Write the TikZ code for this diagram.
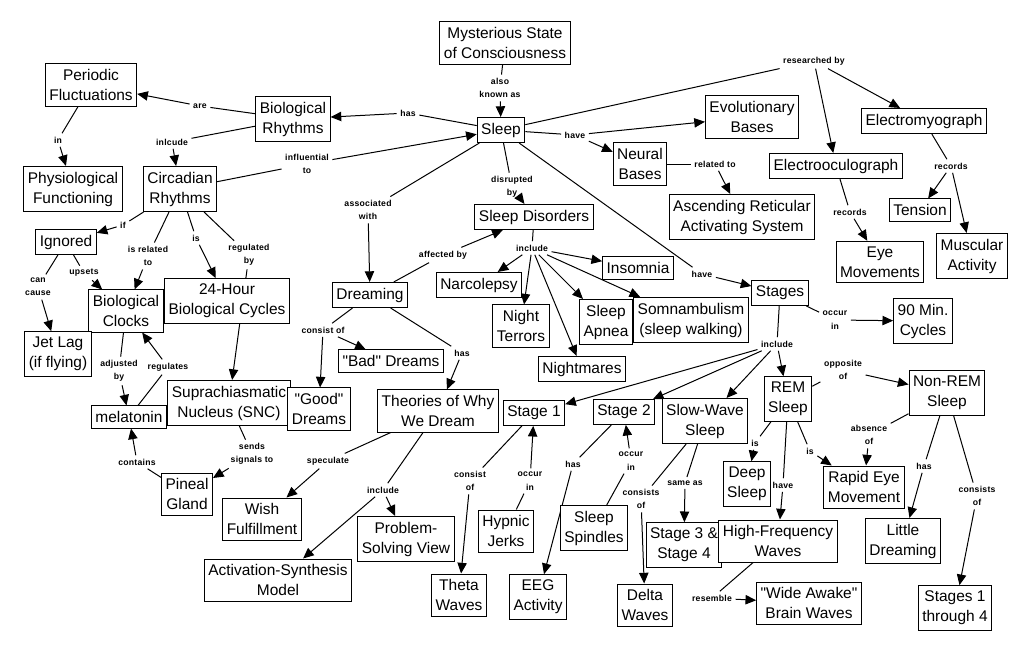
\documentclass[tikz,border=0pt]{standalone}
\usepackage{fontspec}
\setmainfont{Liberation Sans}
\newfontfamily\linkfont[LetterSpace=3]{Liberation Sans}
\usetikzlibrary{arrows.meta,backgrounds}

\tikzset{
  concept/.style={draw, fill=white, line width=0.75pt, align=center, inner xsep=3pt, inner ysep=4pt, font=\fontsize{11.6}{15}\selectfont},
  linkword/.style={align=center, inner sep=2.5pt, font=\linkfont\bfseries\fontsize{6.5}{10}\selectfont},
  plain/.style={line width=0.75pt},
  link/.style={line width=0.75pt, -{Triangle[length=8pt,width=7pt]}}
}

\begin{document}
\begin{tikzpicture}[x=0.75pt, y=-0.75pt]
\useasboundingbox (0,0) rectangle (1034,651);

% linking words
\node[linkword] (aka) at (500,88) {also\\known as};
\node[linkword] (has1) at (408,113) {has};
\node[linkword] (are) at (200,106) {are};
\node[linkword] (inlcude) at (172,142) {inlcude};
\node[linkword] (inw) at (58,140) {in};
\node[linkword] (infl) at (307,164) {influential\\to};
\node[linkword] (assoc) at (368,210) {associated\\with};
\node[linkword] (disr) at (512,187) {disrupted\\by};
\node[linkword] (ifw) at (123,225) {if};
\node[linkword] (isrel) at (148,256) {is related\\to};
\node[linkword] (is1) at (196,238) {is};
\node[linkword] (regby) at (249,255) {regulated\\by};
\node[linkword] (cancause) at (38,287) {can\\cause};
\node[linkword] (upsets) at (84,273) {upsets};
\node[linkword] (adjby) at (119,371) {adjusted\\by};
\node[linkword] (regul) at (168,367) {regulates};
\node[linkword] (contains) at (137,462) {contains};
\node[linkword] (sends) at (252,454) {sends\\signals to};
\node[linkword] (consist1) at (323,330) {consist of};
\node[linkword] (has2) at (462,353) {has};
\node[linkword] (affby) at (443,255) {affected by};
\node[linkword] (incl1) at (532,248) {include};
\node[linkword] (spec) at (328,461) {speculate};
\node[linkword] (incl2) at (383,490) {include};
\node[linkword] (have1) at (575,135) {have};
\node[linkword] (relto) at (715,164) {related to};
\node[linkword] (resby) at (814,61) {researched by};
\node[linkword] (rec1) at (951,166) {records};
\node[linkword] (rec2) at (850,212) {records};
\node[linkword] (have2) at (702,274) {have};
\node[linkword] (occ1) at (835,320) {occur\\in};
\node[linkword] (incl3) at (777,344) {include};
\node[linkword] (opp) at (843,370) {opposite\\of};
\node[linkword] (is2) at (755,443) {is};
\node[linkword] (is3) at (810,451) {is};
\node[linkword] (have3) at (783,485) {have};
\node[linkword] (absof) at (869,435) {absence\\of};
\node[linkword] (has3) at (924,466) {has};
\node[linkword] (consof1) at (977,496) {consists\\of};
\node[linkword] (occ2) at (530,481) {occur\\in};
\node[linkword] (has4) at (573,464) {has};
\node[linkword] (occ3) at (631,461) {occur\\in};
\node[linkword] (consist2) at (470,481) {consist\\of};
\node[linkword] (consof2) at (641,499) {consists\\of};
\node[linkword] (sameas) at (685,483) {same as};
\node[linkword] (resem) at (712,598) {resemble};

% concepts
\node[concept] (myst) at (505,43) {Mysterious State\\of Consciousness};
\node[concept] (sleep) at (501,130) {Sleep};
\node[concept] (per) at (91,85) {Periodic\\Fluctuations};
\node[concept] (bio) at (293,119) {Biological\\Rhythms};
\node[concept] (phys) at (73,189) {Physiological\\Functioning};
\node[concept] (circ) at (180,189) {Circadian\\Rhythms};
\node[concept] (ign) at (66,242) {Ignored};
\node[concept] (hour) at (227,301) {24-Hour\\Biological Cycles};
\node[concept] (clock) at (126,311) {Biological\\Clocks};
\node[concept] (jet) at (58,354) {Jet Lag\\(if flying)};
\node[concept] (snc) at (229,403) {Suprachiasmatic\\Nucleus (SNC)};
\node[concept] (mela) at (129,417) {melatonin};
\node[concept] (pineal) at (187,494) {Pineal\\Gland};
\node[concept] (dream) at (370,295) {Dreaming};
\node[concept] (bad) at (391,361) {\textquotedbl Bad\textquotedbl{} Dreams};
\node[concept] (good) at (319,409) {\textquotedbl Good\textquotedbl\\Dreams};
\node[concept] (theo) at (438,411) {Theories of Why\\We Dream};
\node[concept] (wish) at (262,519) {Wish\\Fulfillment};
\node[concept] (prob) at (406,539) {Problem-\\Solving View};
\node[concept] (act) at (278,580) {Activation-Synthesis\\Model};
\node[concept] (theta) at (459,595) {Theta\\Waves};
\node[concept] (disord) at (534,217) {Sleep Disorders};
\node[concept] (narc) at (479,285) {Narcolepsy};
\node[concept] (terr) at (521,326) {Night\\Terrors};
\node[concept] (insom) at (638,268) {Insomnia};
\node[concept] (apnea) at (606,322) {Sleep\\Apnea};
\node[concept] (somn) at (691,320) {Somnambulism\\(sleep walking)};
\node[concept] (nightm) at (582,369) {Nightmares};
\node[concept] (evol) at (752,117) {Evolutionary\\Bases};
\node[concept] (neural) at (640,164) {Neural\\Bases};
\node[concept] (aras) at (742,217) {Ascending Reticular\\Activating System};
\node[concept] (emg) at (924,121) {Electromyograph};
\node[concept] (eog) at (836,166) {Electrooculograph};
\node[concept] (tension) at (920,210) {Tension};
\node[concept] (eye) at (880,262) {Eye\\Movements};
\node[concept] (musc) at (972,256) {Muscular\\Activity};
\node[concept] (stages) at (780,293) {Stages};
\node[concept] (cycles) at (923,321) {90 Min.\\Cycles};
\node[concept] (st1) at (534,413) {Stage 1};
\node[concept] (st2) at (624,412) {Stage 2};
\node[concept] (sws) at (705,421) {Slow-Wave\\Sleep};
\node[concept] (rem) at (788,399) {REM\\Sleep};
\node[concept] (nrem) at (947,393) {Non-REM\\Sleep};
\node[concept] (hypnic) at (506,531) {Hypnic\\Jerks};
\node[concept] (spind) at (594,528) {Sleep\\Spindles};
\node[concept] (eeg) at (538,597) {EEG\\Activity};
\node[concept] (deep) at (747,484) {Deep\\Sleep};
\node[concept] (rapid) at (864,487) {Rapid Eye\\Movement};
\node[concept] (st34) at (684,545) {Stage 3 \&\\Stage 4};
\node[concept] (hfw) at (778,541) {High-Frequency\\Waves};
\node[concept] (little) at (903,541) {Little\\Dreaming};
\node[concept] (delta) at (645,605) {Delta\\Waves};
\node[concept] (awake) at (809,603) {\textquotedbl Wide Awake\textquotedbl\\Brain Waves};
\node[concept] (st14) at (955,608) {Stages 1\\through 4};

% connectors
\begin{scope}[on background layer]
\draw[plain] (myst) -- (aka); \draw[link] (aka) -- (sleep);
\draw[plain] (sleep) -- (has1); \draw[link] (has1) -- (bio);
\draw[plain] (bio) -- (are); \draw[link] (are) -- (per);
\draw[plain] (bio) -- (inlcude); \draw[link] (inlcude) -- (circ);
\draw[plain] (per) -- (inw); \draw[link] (inw) -- (phys);
\draw[plain] (circ) -- (infl); \draw[link] (infl) -- (sleep);
\draw[plain] (sleep) -- (assoc); \draw[link] (assoc) -- (dream);
\draw[plain] (sleep) -- (disr); \draw[link] (disr) -- (disord);
\draw[plain] (circ) -- (ifw); \draw[link] (ifw) -- (ign);
\draw[plain] (circ) -- (isrel); \draw[link] (isrel) -- (clock);
\draw[plain] (circ) -- (is1); \draw[link] (is1) -- (hour);
\draw[plain] (circ) -- (regby); \draw[link] (regby) -- (snc);
\draw[plain] (ign) -- (cancause); \draw[link] (cancause) -- (jet);
\draw[plain] (ign) -- (upsets); \draw[link] (upsets) -- (clock);
\draw[plain] (clock) -- (adjby); \draw[link] (adjby) -- (mela);
\draw[plain] (mela) -- (regul); \draw[link] (regul) -- (clock);
\draw[plain] (pineal) -- (contains); \draw[link] (contains) -- (mela);
\draw[plain] (snc) -- (sends); \draw[link] (sends) -- (pineal);
\draw[plain] (dream) -- (consist1);
\foreach \t in {good,bad} \draw[link] (consist1) -- (\t);
\draw[plain] (dream) -- (has2); \draw[link] (has2) -- (theo);
\draw[plain] (dream) -- (affby); \draw[link] (affby) -- (disord);
\draw[plain] (disord) -- (incl1);
\foreach \t in {narc,terr,nightm,apnea,somn,insom} \draw[link] (incl1) -- (\t);
\draw[plain] (theo) -- (spec); \draw[link] (spec) -- (wish);
\draw[plain] (theo) -- (incl2);
\foreach \t in {prob,act} \draw[link] (incl2) -- (\t);
\draw[plain] (sleep) -- (have1);
\foreach \t in {evol,neural} \draw[link] (have1) -- (\t);
\draw[plain] (neural) -- (relto); \draw[link] (relto) -- (aras);
\draw[plain] (sleep) -- (resby);
\foreach \t in {eog,emg} \draw[link] (resby) -- (\t);
\draw[plain] (emg) -- (rec1);
\foreach \t in {tension,musc} \draw[link] (rec1) -- (\t);
\draw[plain] (eog) -- (rec2); \draw[link] (rec2) -- (eye);
\draw[plain] (sleep) -- (have2); \draw[link] (have2) -- (stages);
\draw[plain] (stages) -- (occ1); \draw[link] (occ1) -- (cycles);
\draw[plain] (stages) -- (incl3);
\foreach \t in {st1,st2,sws,rem} \draw[link] (incl3) -- (\t);
\draw[plain] (rem) -- (opp); \draw[link] (opp) -- (nrem);
\draw[plain] (rem) -- (is2); \draw[link] (is2) -- (deep);
\draw[plain] (rem) -- (is3); \draw[link] (is3) -- (rapid);
\draw[plain] (rem) -- (have3); \draw[link] (have3) -- (hfw);
\draw[plain] (nrem) -- (absof); \draw[link] (absof) -- (rapid);
\draw[plain] (nrem) -- (has3); \draw[link] (has3) -- (little);
\draw[plain] (nrem) -- (consof1); \draw[link] (consof1) -- (st14);
\draw[plain] (hypnic) -- (occ2); \draw[link] (occ2) -- (st1);
\draw[plain] (st2) -- (has4); \draw[link] (has4) -- (eeg);
\draw[plain] (spind) -- (occ3); \draw[link] (occ3) -- (st2);
\draw[plain] (st1) -- (consist2); \draw[link] (consist2) -- (theta);
\draw[plain] (sws) -- (consof2); \draw[link] (consof2) -- (delta);
\draw[plain] (sws) -- (sameas); \draw[link] (sameas) -- (st34);
\draw[plain] (hfw) -- (resem); \draw[link] (resem) -- (awake);
\end{scope}
\end{tikzpicture}
\end{document}
